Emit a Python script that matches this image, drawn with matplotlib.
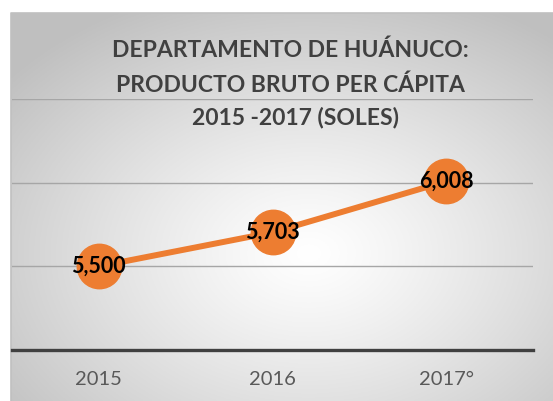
import numpy as np
import matplotlib
matplotlib.use("Agg")
import matplotlib.pyplot as plt

categories = ["2015", "2016", "2017°"]
values = [5500, 5703, 6008]
value_labels = ["5,500", "5,703", "6,008"]
title_lines = ["DEPARTAMENTO DE HUÁNUCO:", "PRODUCTO BRUTO PER CÁPITA", "2015 -2017 (SOLES)"]

W, H = 553, 401
fig = plt.figure(figsize=(W / 100, H / 100), dpi=100)
fig.patch.set_facecolor("white")

# background box with radial gradient
bx0, by0 = 11, 13
bg = fig.add_axes([bx0 / W, 0, (W - bx0) / W, (H - by0) / H])
bg.set_axis_off()
nx, ny = 300, 220
xx, yy = np.meshgrid(np.linspace(0, 1, nx), np.linspace(0, 1, ny))
cx, cy = 0.55, 0.62
r = np.sqrt(((xx - cx) / 0.72) ** 2 + ((yy - cy) / 0.72) ** 2)
r = np.clip(r, 0, 1)
lvl = 1.0 - 0.25 * r ** 1.2
img = np.dstack([lvl, lvl, lvl])
bg.imshow(img, extent=[0, 1, 0, 1], aspect="auto", origin="upper")
bg.set_xlim(0, 1)
bg.set_ylim(0, 1)
bg.plot([0, 0, 1], [0, 1, 1], color="#c0c0c0", lw=1.2, clip_on=False)

# main axes
x0, x1 = 12, 533
ytop, ybot = 99, 350
ax = fig.add_axes([x0 / W, (H - ybot) / H, (x1 - x0) / W, (ybot - ytop) / H])
ax.set_facecolor("none")
ax.set_xlim(-0.5, len(categories) - 0.5)
ax.set_ylim(5000, 6500)
for s in ["top", "right", "left"]:
    ax.spines[s].set_visible(False)
ax.spines["bottom"].set_color("#404040")
ax.spines["bottom"].set_linewidth(2.4)
ax.set_yticks([5500, 6000, 6500])
ax.yaxis.grid(True, color="#a6a6a6", lw=1.0)
ax.set_axisbelow(True)
ax.tick_params(axis="y", left=False, labelleft=False)
xs = np.arange(len(categories))
ax.set_xticks(xs)
ax.set_xticklabels(categories, fontsize=14.5, color="#595959", family="Lato")
ax.tick_params(axis="x", length=0, pad=15)

ax.plot(xs, values, color="#ED7D31", lw=4.3, marker="o", markersize=32,
        markerfacecolor="#ED7D31", markeredgecolor="#ED7D31", clip_on=False, zorder=3)
for x, v, lab in zip(xs, values, value_labels):
    ax.text(x, v, lab, ha="center", va="center", fontsize=15.5, fontweight="bold",
            color="black", family="Lato", zorder=4)

ty = [50, 85, 118]
tx = [290, 290, 296]
for t, yv, xv in zip(title_lines, ty, tx):
    fig.text(xv / W, 1 - yv / H, t, ha="center", va="center", fontsize=16.5,
             fontweight="bold", color="#404040", family="Lato")

fig.savefig("out.png", dpi=100)
